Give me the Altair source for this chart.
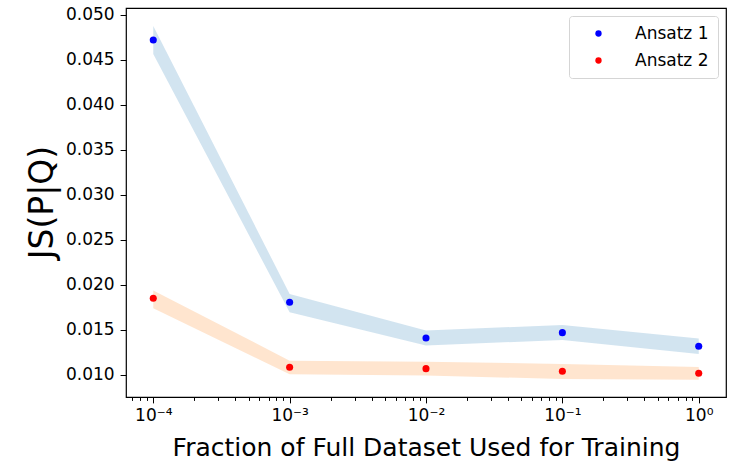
import altair as alt
import pandas as pd

# ---- data ----
fractions = [1e-4, 1e-3, 1e-2, 1e-1, 1.0]
series = ["Ansatz 1", "Ansatz 2"]

ansatz1_js = [0.04722, 0.01807, 0.01411, 0.01470, 0.01319]
ansatz1_lo = [0.04567, 0.01696, 0.01326, 0.01389, 0.01233]
ansatz1_hi = [0.04878, 0.01900, 0.01493, 0.01556, 0.01404]

ansatz2_js = [0.01852, 0.01086, 0.01070, 0.01041, 0.01019]
ansatz2_lo = [0.01741, 0.01007, 0.00993, 0.00956, 0.00948]
ansatz2_hi = [0.01937, 0.01159, 0.01148, 0.01122, 0.01089]

major_ticks = [1e-4, 1e-3, 1e-2, 1e-1, 1.0]
major_labels = ["10\u207b\u2074", "10\u207b\u00b3", "10\u207b\u00b2", "10\u207b\u00b9", "10\u2070"]
minor_ticks = [7e-5, 8e-5, 9e-5,
               2e-4, 3e-4, 4e-4, 5e-4, 6e-4, 7e-4, 8e-4, 9e-4,
               2e-3, 3e-3, 4e-3, 5e-3, 6e-3, 7e-3, 8e-3, 9e-3,
               2e-2, 3e-2, 4e-2, 5e-2, 6e-2, 7e-2, 8e-2, 9e-2,
               2e-1, 3e-1, 4e-1, 5e-1, 6e-1, 7e-1, 8e-1, 9e-1]
y_ticks = [0.010, 0.015, 0.020, 0.025, 0.030, 0.035, 0.040, 0.045, 0.050]

x_domain = [6.31e-5, 1.585]
y_domain = [0.00755, 0.05077]

rows = []
for s, m, lo, hi in [(series[0], ansatz1_js, ansatz1_lo, ansatz1_hi),
                     (series[1], ansatz2_js, ansatz2_lo, ansatz2_hi)]:
    for f, a, b, c in zip(fractions, m, lo, hi):
        rows.append({"series": s, "frac": f, "js": a, "lo": b, "hi": c})
df = pd.DataFrame(rows)

# label expression from the tick lists
expr = "''"
for v, lab in zip(reversed(major_ticks), reversed(major_labels)):
    expr = f"abs(datum.value - {v}) < {v}*0.01 ? '{lab}' : ({expr})"

xscale = alt.Scale(type="log", domain=x_domain, nice=False, zero=False)
yscale = alt.Scale(domain=y_domain, nice=False, zero=False)

minor_axis = alt.Axis(values=minor_ticks, labels=False, tickSize=3.4, domain=False,
                      grid=False, title=None, orient="bottom", tickColor="black",
                      tickWidth=1)

y_axis = alt.Axis(values=y_ticks, format=".3f", tickSize=5.9,
                  labelPadding=6, domain=False, grid=False,
                  title="JS(P|Q)", titleFontSize=33,
                  titleFontWeight="normal", titleAngle=270,
                  titleBaseline="alphabetic", titleAlign="center",
                  titleX=-74, titleY=194, labelFontSize=17,
                  tickColor="black", labelFlush=False)

band_colors = {"Ansatz 1": "#1f77b4", "Ansatz 2": "#ff7f0e"}
bands = []
for s in series:
    bands.append(
        alt.Chart(df).transform_filter(alt.datum.series == s)
        .mark_area(color=band_colors[s], opacity=0.2, interpolate="linear")
        .encode(
            x=alt.X("frac:Q", scale=xscale, axis=minor_axis),
            y=alt.Y("lo:Q", scale=yscale, axis=y_axis),
            y2="hi:Q",
        )
    )
band_layer = alt.layer(*bands)

points = alt.Chart(df).mark_circle(size=50, opacity=1).encode(
    x=alt.X("frac:Q", scale=xscale,
            axis=alt.Axis(values=major_ticks, labelExpr=expr, tickSize=5.9,
                          labelPadding=5, domain=False, grid=False,
                          title="Fraction of Full Dataset Used for Training",
                          titleFontSize=25, titleFontWeight="normal",
                          titleBaseline="alphabetic", titleY=58,
                          labelFontSize=17, orient="bottom", tickColor="black",
                          labelFlush=False, labelOverlap=False)),
    y=alt.Y("js:Q", scale=yscale, axis=y_axis),
    color=alt.Color("series:N",
                    scale=alt.Scale(domain=series, range=["#0000ff", "#ff0000"]),
                    legend=alt.Legend(title=None, orient="top-right", offset=8,
                                      labelFontSize=17, symbolSize=40,
                                      symbolType="circle", padding=9,
                                      rowPadding=9, labelOffset=28,
                                      symbolOffset=12, strokeColor="#d5d5d5",
                                      fillColor="white", cornerRadius=3)),
)

chart = alt.layer(band_layer, points).resolve_axis(x="independent", y="shared").properties(
    width=600, height=389,
    autosize=alt.AutoSizeParams(type="none"),
    padding={"left": 126, "top": 8, "right": 4, "bottom": 65},
    background="white",
).configure_view(stroke="black", strokeWidth=1.2).configure_axis(
    labelFont="DejaVu Sans", titleFont="DejaVu Sans", labelColor="black",
    titleColor="black",
).configure_legend(labelFont="DejaVu Sans", labelColor="black")

chart.save("out.html", embed_options={"renderer": "svg", "actions": False})
